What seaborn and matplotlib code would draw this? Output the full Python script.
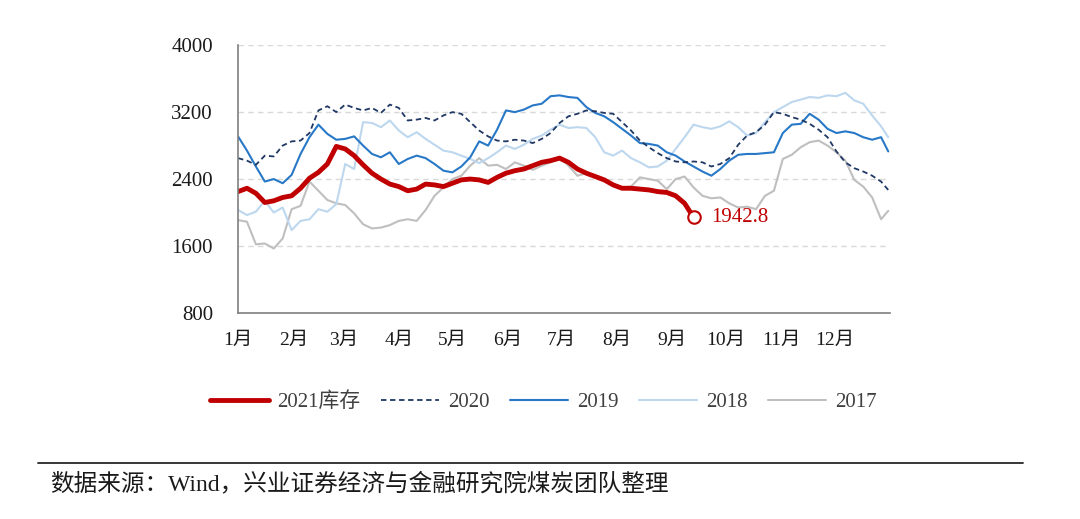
import matplotlib
matplotlib.use('Agg')
import matplotlib.pyplot as plt
import seaborn as sns

# day-of-year positions (every 5 days)
days = list(range(0, 361, 5)) + [364]
days_2021 = list(range(0, 256, 5))

inv_2021 = [2250, 2290, 2230, 2120, 2140, 2180, 2200, 2290, 2410, 2480,
            2580, 2790, 2760, 2680, 2570, 2470, 2400, 2340, 2310, 2260,
            2280, 2340, 2330, 2310, 2350, 2390, 2400, 2390, 2360, 2420,
            2470, 2500, 2520, 2560, 2600, 2620, 2650, 2600, 2520, 2470,
            2430, 2390, 2330, 2290, 2290, 2280, 2270, 2250, 2240, 2200,
            2110, 1942.8]

inv_2020 = [2650, 2620, 2570, 2680, 2670, 2800, 2850, 2860, 2950, 3220,
            3270, 3200, 3290, 3250, 3220, 3250, 3190, 3290, 3250, 3100,
            3110, 3130, 3100, 3160, 3200, 3180, 3080, 2980, 2910, 2860,
            2850, 2870, 2860, 2830, 2880, 2950, 3070, 3150, 3180, 3220,
            3210, 3190, 3180, 3080, 2980, 2860, 2780, 2710, 2650, 2610,
            2600, 2610, 2600, 2550, 2580, 2650, 2810, 2920, 2960, 3050,
            3200, 3180, 3140, 3110, 3060, 2990, 2900, 2730, 2600, 2530,
            2490, 2440, 2370, 2270]

inv_2019 = [2910, 2740, 2550, 2370, 2400, 2350, 2450, 2700, 2900, 3050,
            2940, 2870, 2880, 2910, 2800, 2700, 2660, 2720, 2580, 2640,
            2680, 2650, 2580, 2500, 2480, 2550, 2660, 2850, 2800, 2990,
            3220, 3200, 3230, 3280, 3300, 3390, 3400, 3380, 3370, 3260,
            3190, 3150, 3080, 3000, 2920, 2830, 2820, 2800, 2720, 2680,
            2610, 2550, 2490, 2440, 2520, 2620, 2690, 2700, 2700, 2710,
            2720, 2950, 3050, 3060, 3180, 3110, 3000, 2950, 2970, 2950,
            2900, 2870, 2900, 2730]

inv_2018 = [2030, 1970, 2010, 2140, 2000, 2060, 1790, 1900, 1920, 2040,
            2010, 2100, 2580, 2520, 3080, 3070, 3020, 3100, 2980, 2900,
            2960, 2880, 2810, 2740, 2720, 2680, 2640, 2590, 2650, 2720,
            2800, 2760, 2810, 2880, 2920, 2990, 3050, 3010, 3020, 3010,
            2900, 2720, 2680, 2740, 2650, 2600, 2540, 2550, 2620, 2760,
            2900, 3050, 3020, 3000, 3030, 3090, 3020, 2920, 2950, 3080,
            3200, 3260, 3320, 3350, 3380, 3370, 3400, 3390, 3430, 3340,
            3300, 3160, 3030, 2900]

inv_2017 = [1910, 1890, 1620, 1630, 1570, 1690, 2040, 2080, 2370, 2260,
            2150, 2110, 2090, 1990, 1860, 1810, 1820, 1850, 1900, 1920,
            1900, 2030, 2200, 2300, 2400, 2440, 2560, 2650, 2560, 2570,
            2520, 2600, 2560, 2510, 2560, 2600, 2660, 2560, 2440, 2470,
            2440, 2390, 2330, 2300, 2310, 2420, 2400, 2380, 2280, 2400,
            2430, 2300, 2200, 2170, 2180, 2110, 2060, 2070, 2040, 2200,
            2260, 2640, 2690, 2780, 2840, 2860, 2800, 2720, 2620, 2390,
            2310, 2180, 1920, 2020]

month_ticks = [0, 31, 59, 90, 120, 151, 181, 212, 243, 273, 304, 334, 365]
month_labels = ['1月', '2月', '3月', '4月', '5月', '6月', '7月', '8月', '9月',
                '10月', '11月', '12月', '']

sns.set_style('white')
plt.rcParams['font.family'] = ['Liberation Serif', 'Noto Sans CJK SC']

fig = plt.figure(figsize=(10.8, 5.19), dpi=100)
ax = fig.add_axes([0.2204, 0.397, 0.6037, 0.516])

sns.lineplot(x=days, y=inv_2017, ax=ax, color='#BFBFBF', lw=1.5, label='2017')
sns.lineplot(x=days, y=inv_2018, ax=ax, color='#BDD7EE', lw=1.5, label='2018')
sns.lineplot(x=days, y=inv_2019, ax=ax, color='#2878C8', lw=1.5, label='2019')
sns.lineplot(x=days, y=inv_2020, ax=ax, color='#1F3864', lw=1.3,
             linestyle=(0, (3, 2)), label='2020')
sns.lineplot(x=days_2021, y=inv_2021, ax=ax, color='#C00000', lw=3.5,
             label='2021库存')

# last point marker and label
ax.plot(days_2021[-1], inv_2021[-1], 'o', ms=9, mfc='white', mec='#C00000', mew=1.5)
ax.text(days_2021[-1] + 10, inv_2021[-1], f'{inv_2021[-1]:.1f}', color='#C00000',
        fontsize=15, va='center', ha='left')

ax.set_xlim(0, 365)
ax.set_ylim(800, 4000)
ax.set_yticks([800, 1600, 2400, 3200, 4000])
ax.set_xticks(month_ticks)
ax.set_xticklabels(month_labels)
ax.set_xlabel('')
ax.set_ylabel('')
ax.yaxis.grid(True, color='#D9D9D9', linestyle=(0, (4, 3)), lw=1)
ax.set_axisbelow(True)
for s in ['top', 'right']:
    ax.spines[s].set_visible(False)
for s in ['left', 'bottom']:
    ax.spines[s].set_color('#7F7F7F')
    ax.spines[s].set_linewidth(1.2)
ax.tick_params(axis='y', direction='inout', length=8, color='#7F7F7F',
               labelsize=15, pad=14, labelcolor='#1a1a1a')
ax.tick_params(axis='x', direction='out', length=5, color='#7F7F7F',
               labelsize=14, pad=9, labelcolor='#1a1a1a')

# legend in the order of the reference
handles, labels = ax.get_legend_handles_labels()
order = [labels.index(l) for l in ['2021库存', '2020', '2019', '2018', '2017']]
ax.legend([handles[i] for i in order], [labels[i] for i in order],
          loc='center', bbox_to_anchor=(0.503, 0.225), bbox_transform=fig.transFigure,
          ncol=5, frameon=False, fontsize=15, handlelength=2.8, columnspacing=1.0,
          handletextpad=0.4, labelcolor='#404040')

# source line
fig.add_artist(plt.Line2D([0.035, 0.947], [0.108, 0.108], color='#262626', lw=1.3))
fig.text(0.046, 0.068, '数据来源：Wind，兴业证券经济与金融研究院煤炭团队整理',
         fontsize=17, color='#1a1a1a', va='center', ha='left',
         family=['Liberation Serif', 'Noto Sans CJK SC'])

fig.savefig('out.png', dpi=100)
